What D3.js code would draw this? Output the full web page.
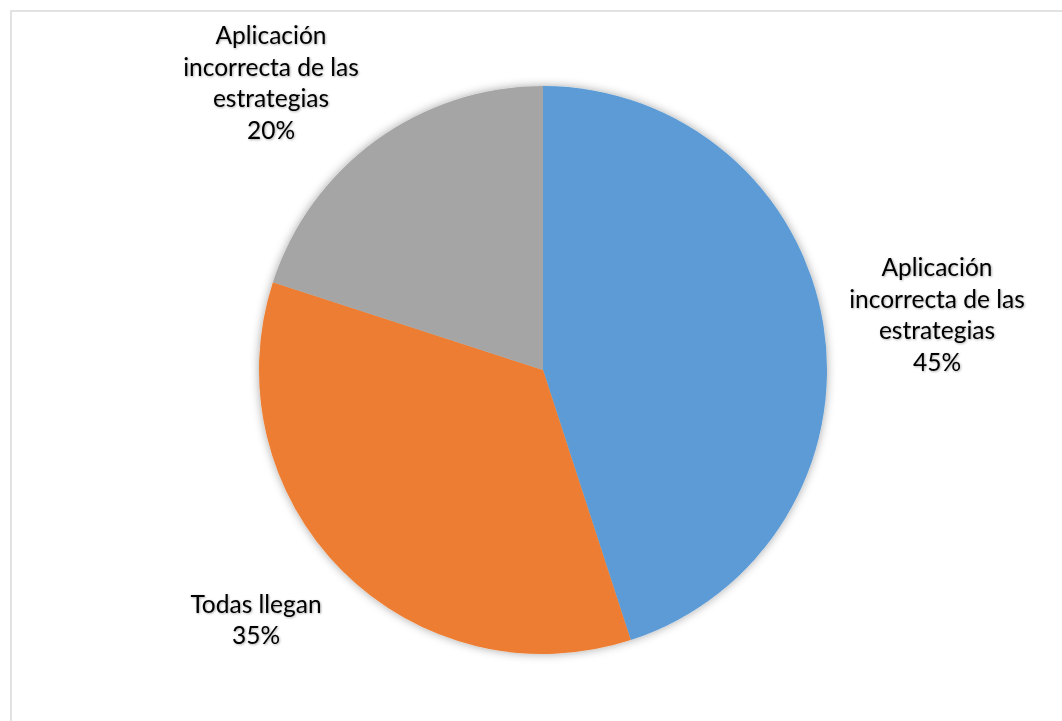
<!DOCTYPE html>
<html><head><meta charset="utf-8">
<script src="https://cdn.jsdelivr.net/npm/d3@7"></script>
<style>html,body{margin:0;padding:0;background:#fff;}</style>
</head><body>
<script>
const categories = ["Aplicación incorrecta de las estrategias", "Todas llegan", "Aplicación incorrecta de las estrategias"];
const labelLines = [["Aplicación","incorrecta de las","estrategias"],["Todas llegan"],["Aplicación","incorrecta de las","estrategias"]];
const values = [45, 35, 20];
const colors = ["#5B9BD5", "#ED7D31", "#A5A5A5"];
// label anchor (center of text block) in chart pixel space
const labelPos = [[937, 315], [256, 620], [271, 83]];

const W = 1062, H = 721;
const svg = d3.select("body").append("svg").attr("width", W).attr("height", H);
const defs = svg.append("defs");
const f = defs.append("filter").attr("id","sh").attr("x","-20%").attr("y","-20%").attr("width","140%").attr("height","140%");
f.append("feDropShadow").attr("dx",0).attr("dy",0).attr("stdDeviation",5).attr("flood-color","#000").attr("flood-opacity",0.35);
const tf = defs.append("filter").attr("id","tsh").attr("x","-10%").attr("y","-30%").attr("width","120%").attr("height","160%");
tf.append("feDropShadow").attr("dx",0.8).attr("dy",0.8).attr("stdDeviation",1.2).attr("flood-color","#000").attr("flood-opacity",0.35);

svg.append("rect").attr("x",11).attr("y",11).attr("width",1060).attr("height",720)
  .attr("fill","#fff").attr("stroke","#d9d9d9").attr("stroke-width",1.5);

const cx = 543, cy = 370, r = 284;
const pie = d3.pie().sort(null).value(d => d);
const arc = d3.arc().innerRadius(0).outerRadius(r);
const g = svg.append("g").attr("transform", `translate(${cx},${cy})`);
g.append("g").attr("filter","url(#sh)").selectAll("path").data(pie(values)).join("path")
  .attr("d", arc).attr("fill", (d,i) => colors[i]);

const lh = 31.5;
labelPos.forEach((p, i) => {
  const lines = labelLines[i].concat([values[i] + "%"]);
  const t = svg.append("text").attr("text-anchor","middle")
    .attr("font-family","Lato, 'Open Sans', sans-serif").attr("font-size",24.5).attr("fill","#000")
    .attr("filter","url(#tsh)");
  const y0 = p[1] - (lines.length - 1) * lh / 2;
  lines.forEach((s, k) => {
    t.append("tspan").attr("x", p[0]).attr("y", y0 + k * lh).attr("dy","0.35em").text(s);
  });
});
</script>
</body></html>
